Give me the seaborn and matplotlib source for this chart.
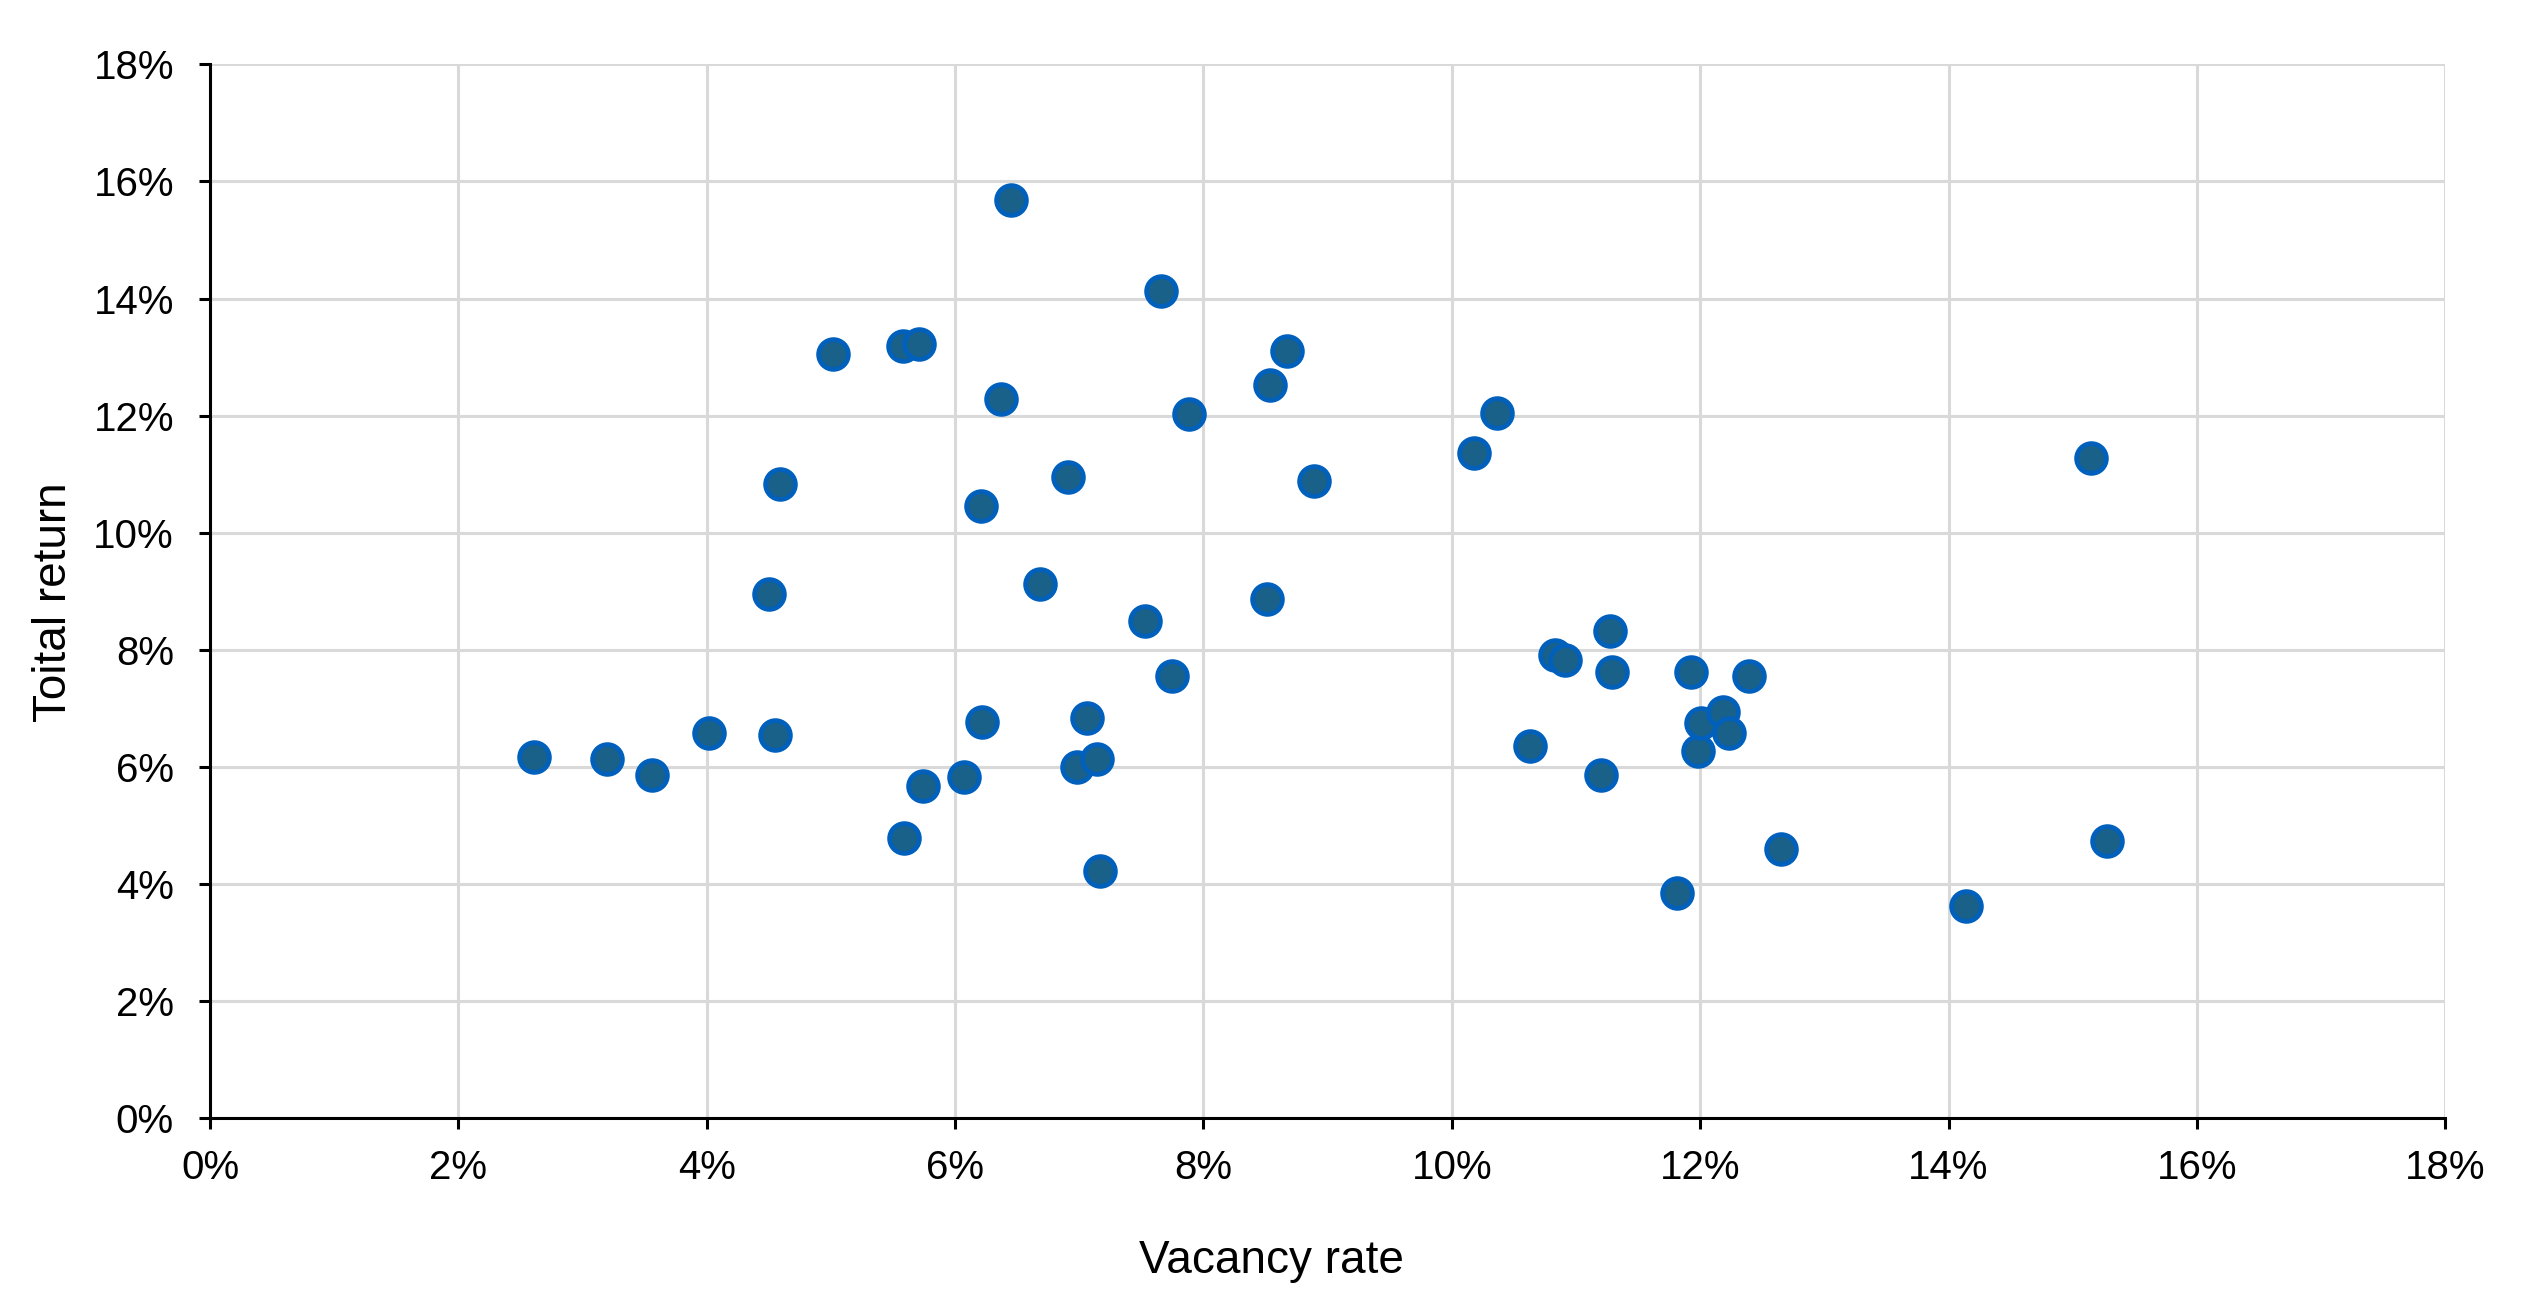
import pandas as pd
import matplotlib
matplotlib.use("Agg")
import matplotlib.pyplot as plt
import seaborn as sns
from matplotlib.ticker import PercentFormatter, MultipleLocator

# values, in percent
vacancy_rate = [2.61, 3.20, 3.56, 4.02, 4.50, 4.55, 4.59, 5.02, 5.58, 5.71,
                5.59, 5.74, 6.07, 6.21, 6.22, 6.37, 6.45, 6.68, 6.91, 6.98,
                7.06, 7.14, 7.17, 7.53, 7.66, 7.75, 7.88, 8.51, 8.54, 8.67,
                8.89, 10.18, 10.36, 10.63, 10.83, 10.91, 11.20, 11.27, 11.29, 11.81,
                11.93, 11.98, 12.01, 12.18, 12.23, 12.39, 12.65, 14.14, 15.15, 15.28]
total_return = [6.17, 6.14, 5.86, 6.58, 8.96, 6.55, 10.84, 13.05, 13.19, 13.22,
                4.78, 5.67, 5.83, 10.45, 6.77, 12.28, 15.68, 9.12, 10.95, 6.00,
                6.83, 6.14, 4.23, 8.49, 14.13, 7.55, 12.03, 8.87, 12.52, 13.10,
                10.89, 11.36, 12.05, 6.36, 7.91, 7.82, 5.86, 8.32, 7.63, 3.84,
                7.63, 6.28, 6.75, 6.94, 6.58, 7.55, 4.59, 3.62, 11.28, 4.73]

df = pd.DataFrame({"Vacancy rate": vacancy_rate, "Toital return": total_return})

sns.set_style("white")
plt.rcParams["font.family"] = ["Liberation Sans", "DejaVu Sans"]
plt.rcParams["text.color"] = "black"
plt.rcParams["axes.labelcolor"] = "black"
plt.rcParams["xtick.color"] = "black"
plt.rcParams["ytick.color"] = "black"

fig = plt.figure(figsize=(12.65, 6.57), dpi=200)
ax = fig.add_axes([0.083, 0.149, 0.8835, 0.802])

sns.scatterplot(data=df, x="Vacancy rate", y="Toital return", ax=ax,
                s=115, color="#1a6189", edgecolor="#0060bb", linewidth=1.7,
                zorder=3)

ax.set_xlim(0, 18)
ax.set_ylim(0, 18)
ax.xaxis.set_major_locator(MultipleLocator(2))
ax.yaxis.set_major_locator(MultipleLocator(2))
ax.xaxis.set_major_formatter(PercentFormatter(decimals=0))
ax.yaxis.set_major_formatter(PercentFormatter(decimals=0))

ax.grid(True, color="#d9d9d9", linewidth=1.1, zorder=0)
ax.set_axisbelow(True)
for side in ["top", "right"]:
    ax.spines[side].set_visible(False)
for side in ["left", "bottom"]:
    ax.spines[side].set_color("black")
    ax.spines[side].set_linewidth(1.1)

ax.tick_params(axis="both", direction="out", length=4, width=1.1,
               bottom=True, left=True, color="black", labelsize=14.5)
ax.tick_params(axis="x", pad=7)
ax.tick_params(axis="y", pad=9)

ax.set_xlabel("Vacancy rate", fontsize=16.5)
ax.set_ylabel("Toital return", fontsize=16.5)
ax.xaxis.set_label_coords(0.475, -0.115)
ax.yaxis.set_label_coords(-0.06, 0.49)

fig.savefig("out.png", dpi=200)
